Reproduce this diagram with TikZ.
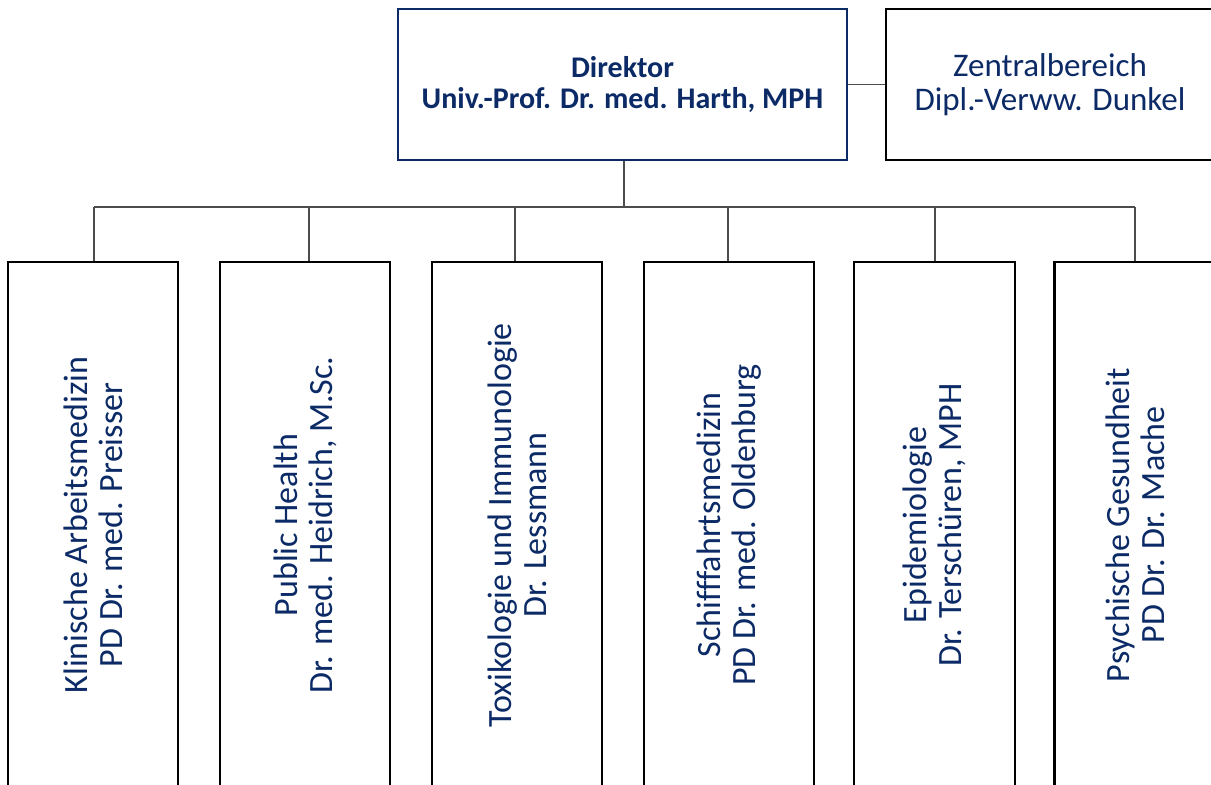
\documentclass[tikz,border=0pt]{standalone}
\usepackage{fontspec}
\setmainfont{Carlito}[Ligatures=NoCommon]
\usepackage{tikz}
\usetikzlibrary{positioning,calc}
\usepackage{xcolor}
\definecolor{navy}{HTML}{0B2A66}

\begin{document}
\begin{tikzpicture}[x=1pt, y=-1pt,
    leitung/.style={draw=navy, line width=2pt, text=navy, align=center, inner sep=0pt,
        minimum width=449pt, minimum height=151pt, font=\bfseries\fontsize{30}{31}\selectfont},
    bereich/.style={draw=black, line width=2.2pt, text=navy, align=center, inner sep=0pt,
        minimum width=328pt, minimum height=151pt, font=\fontsize{33}{34}\selectfont},
    abteilung/.style={draw=black, line width=2.5pt, text=navy, align=center, inner sep=0pt,
        rotate=90, minimum width=526pt, minimum height=170pt, font=\fontsize{34}{35}\selectfont},
    linie/.style={draw=black!70, line width=1.3pt}]
            \clip (0,0) rectangle (1211,785);
            \fill[white] (0,0) rectangle (1211,785);

            % Leitung
            \node[leitung] (dir) at (622.5,84.5) {Direktor\\Univ.-Prof. Dr. med. Harth, MPH};
            \node[bereich] (zb) at (1050,84.5) {Zentralbereich\\Dipl.-Verww. Dunkel};
            \draw[linie] (dir.east) -- (zb.west);

            % Abteilungen
            \node[abteilung] (a1) at (93,525) {Klinische Arbeitsmedizin\\PD Dr. med. Preisser};
            \node[abteilung] (a2) at (305,525) {Public Health\\Dr. med. Heidrich, M.Sc.};
            \node[abteilung] (a3) at (517,525) {Toxikologie und Immunologie\\Dr. Lessmann};
            \node[abteilung] (a4) at (729,525) {Schifffahrtsmedizin\\PD Dr. med. Oldenburg};
            \node[abteilung, minimum height=161pt] (a5) at (934.5,525) {Epidemiologie\\Dr. Terschüren, MPH};
            \node[abteilung, minimum height=161pt] (a6) at (1135,525) {Psychische Gesundheit\\PD Dr. Dr. Mache};

            % Verbindungen
            \coordinate (d1) at (94,207);
            \coordinate (d2) at (309,207);
            \coordinate (d3) at (515,207);
            \coordinate (d4) at (728,207);
            \coordinate (d5) at (935,207);
            \coordinate (d6) at (1135,207);
            \draw[linie] (dir.south -| 624,0) -- (624,207);
            \draw[linie] (d1) -- (d6);
            \draw[linie] (d1) -- (d1 |- a1.east);
            \draw[linie] (d2) -- (d2 |- a2.east);
            \draw[linie] (d3) -- (d3 |- a3.east);
            \draw[linie] (d4) -- (d4 |- a4.east);
            \draw[linie] (d5) -- (d5 |- a5.east);
            \draw[linie] (d6) -- (d6 |- a6.east);
        \end{tikzpicture}
\end{document}
